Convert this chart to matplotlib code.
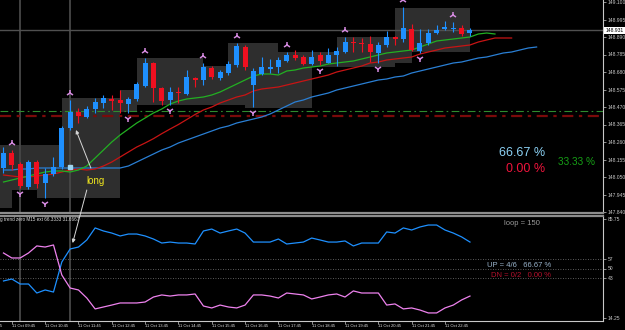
import matplotlib
matplotlib.use('Agg')
import matplotlib.pyplot as plt
from matplotlib import transforms
from matplotlib.patches import Rectangle

plt.rcParams['font.family'] = ['Liberation Sans', 'DejaVu Sans']

# M15 candles, 11 Oct 09:30 .. 23:30
opens = [148.104, 148.194, 148.128, 147.990, 148.140, 148.014, 148.068, 148.110, 148.344, 148.440,
         148.410, 148.458, 148.494, 148.518, 148.512, 148.488, 148.518, 148.596, 148.734, 148.584,
         148.512, 148.560, 148.548, 148.644, 148.632, 148.704, 148.644, 148.674, 148.722, 148.830,
         148.602, 148.668, 148.698, 148.710, 148.746, 148.782, 148.770, 148.728, 148.782, 148.734,
         148.782, 148.800, 148.860, 148.854, 148.848, 148.794, 148.842, 148.890, 148.878, 148.938,
         148.806, 148.854, 148.914, 148.938, 148.938, 148.944, 148.914]
highs = [148.230, 148.212, 148.140, 148.152, 148.152, 148.104, 148.170, 148.356, 148.512, 148.464,
         148.476, 148.524, 148.542, 148.542, 148.572, 148.530, 148.620, 148.764, 148.740, 148.590,
         148.590, 148.590, 148.692, 148.650, 148.734, 148.716, 148.692, 148.746, 148.854, 148.842,
         148.704, 148.770, 148.758, 148.770, 148.800, 148.812, 148.782, 148.812, 148.800, 148.824,
         148.830, 148.890, 148.890, 148.884, 148.896, 148.860, 148.926, 148.896, 149.070, 148.968,
         148.938, 148.938, 148.962, 148.986, 148.980, 148.962, 148.944]
lows = [148.074, 148.092, 147.984, 147.978, 147.984, 147.924, 148.056, 148.098, 148.332, 148.374,
        148.404, 148.434, 148.464, 148.452, 148.434, 148.434, 148.506, 148.590, 148.500, 148.482,
        148.482, 148.494, 148.542, 148.590, 148.602, 148.638, 148.632, 148.662, 148.710, 148.692,
        148.470, 148.662, 148.674, 148.674, 148.740, 148.752, 148.722, 148.722, 148.722, 148.734,
        148.716, 148.794, 148.800, 148.800, 148.740, 148.734, 148.830, 148.842, 148.860, 148.806,
        148.794, 148.842, 148.908, 148.932, 148.920, 148.896, 148.896]
closes = [148.194, 148.122, 147.996, 148.140, 148.008, 148.068, 148.110, 148.344, 148.440, 148.416,
          148.458, 148.500, 148.524, 148.506, 148.494, 148.518, 148.608, 148.734, 148.584, 148.506,
          148.560, 148.554, 148.650, 148.632, 148.710, 148.650, 148.680, 148.728, 148.836, 148.710,
          148.686, 148.710, 148.710, 148.752, 148.782, 148.764, 148.728, 148.770, 148.746, 148.782,
          148.806, 148.860, 148.854, 148.848, 148.800, 148.842, 148.890, 148.878, 148.944, 148.812,
          148.854, 148.914, 148.932, 148.950, 148.944, 148.908, 148.931]

# alligator lines (already shifted forward)
lips = [148.020, 148.032, 148.044, 148.056, 148.068, 148.080, 148.086, 148.086, 148.080, 148.092,
        148.116, 148.164, 148.212, 148.260, 148.302, 148.338, 148.374, 148.404, 148.434, 148.458,
        148.488, 148.506, 148.518, 148.524, 148.530, 148.542, 148.560, 148.584, 148.608, 148.632,
        148.656, 148.668, 148.668, 148.662, 148.686, 148.692, 148.704, 148.710, 148.716, 148.728,
        148.734, 148.740, 148.746, 148.758, 148.770, 148.782, 148.794, 148.800, 148.806, 148.812,
        148.830, 148.848, 148.866, 148.872, 148.878, 148.884, 148.890, 148.908, 148.914, 148.908]
teeth = [148.062, 148.056, 148.050, 148.050, 148.056, 148.062, 148.068, 148.080, 148.092, 148.098,
         148.092, 148.098, 148.116, 148.140, 148.170, 148.200, 148.230, 148.254, 148.280, 148.310,
         148.338, 148.365, 148.395, 148.425, 148.452, 148.470, 148.494, 148.512, 148.530, 148.542,
         148.566, 148.578, 148.584, 148.590, 148.602, 148.614, 148.626, 148.638, 148.650, 148.662,
         148.680, 148.692, 148.704, 148.716, 148.734, 148.740, 148.752, 148.758, 148.764, 148.770,
         148.788, 148.800, 148.812, 148.824, 148.830, 148.836, 148.842, 148.860, 148.872, 148.884,
         148.884, 148.884]
jaw = [148.092, 148.092, 148.098, 148.098, 148.104, 148.104, 148.104, 148.104, 148.104, 148.104,
       148.104, 148.104, 148.104, 148.104, 148.104, 148.116, 148.140, 148.164, 148.188, 148.212,
       148.230, 148.254, 148.272, 148.290, 148.308, 148.326, 148.344, 148.356, 148.374, 148.386,
       148.398, 148.410, 148.428, 148.452, 148.476, 148.500, 148.512, 148.530, 148.542, 148.554,
       148.572, 148.584, 148.596, 148.608, 148.620, 148.632, 148.638, 148.650, 148.656, 148.674,
       148.686, 148.698, 148.710, 148.722, 148.734, 148.740, 148.752, 148.764, 148.770, 148.782,
       148.794, 148.800, 148.812, 148.824, 148.830]

up_fractals = [1, 8, 17, 24, 28, 34, 41, 48, 54]
dn_fractals = [2, 5, 15, 20, 30, 38, 45, 50]

# range boxes: start bar, end bar, top, bottom
box_start = [-1, -1, 4, 7, 14, 16, 24, 27, 29, 33, 37, 40, 47, 49]
box_end = [7, 1, 7, 14, 16, 24, 27, 29, 33, 37, 40, 47, 49, 56]
box_top = [148.242, 147.972, 147.972, 148.524, 148.572, 148.764, 148.716, 148.854, 148.854,
           148.800, 148.800, 148.890, 149.064, 149.064]
box_bottom = [147.972, 147.864, 147.924, 147.924, 148.440, 148.482, 148.482, 148.482, 148.464,
              148.464, 148.710, 148.710, 148.734, 148.800]

green_level = 148.446
red_level = 148.416
entry_bar = 8
entry_price = 148.110
separator_bars = [2, 8]

price_ticks = [149.100, 148.995, 148.890, 148.785, 148.680, 148.575, 148.470,
               148.365, 148.260, 148.155, 148.050, 147.945, 147.840]

# trend zero oscillator
trend_up = [41.0, 42.4, 38.8, 38.8, 32.3, 34.5, 33.0, 54.7, 64.1, 65.5,
            70.6, 79.3, 77.1, 75.6, 73.5, 74.9, 74.9, 73.5, 71.3, 68.4,
            69.1, 68.4, 68.4, 67.7, 77.1, 78.5, 75.6, 77.1, 78.5, 75.6,
            69.1, 69.1, 69.1, 71.3, 67.7, 68.4, 69.1, 72.0, 70.6, 69.1,
            69.1, 69.9, 66.3, 68.4, 68.4, 68.4, 76.4, 75.6, 79.3, 77.8,
            80.0, 81.4, 81.4, 77.8, 75.6, 72.8, 69.1]
trend_dn = [61.2, 57.6, 57.6, 61.2, 66.3, 65.5, 67.0, 45.3, 35.9, 34.5,
            28.7, 20.8, 22.2, 23.6, 25.1, 25.1, 25.1, 25.8, 29.4, 30.9,
            30.1, 30.9, 30.9, 31.6, 22.9, 21.5, 23.6, 22.2, 21.5, 23.6,
            30.9, 30.9, 30.1, 28.7, 32.3, 31.6, 30.9, 28.0, 29.4, 30.9,
            31.6, 29.4, 33.8, 32.3, 32.3, 32.3, 23.6, 24.4, 20.8, 21.5,
            20.0, 17.9, 17.9, 21.5, 23.6, 27.3, 30.1]
ind_levels = [57, 50, 43]
ind_ticks = [85.75, 57, 50, 43, 14.25]
ind_ticklabels = ['85.75', '57', '50', '43', '14.25']

time_bars = [-3, 1, 5, 9, 13, 17, 21, 25, 29, 33, 37, 41, 45, 49, 53]
time_labels = ['11 Oct 08:45', '11 Oct 09:45', '11 Oct 10:45', '11 Oct 11:45', '11 Oct 12:45',
               '11 Oct 13:45', '11 Oct 14:45', '11 Oct 15:45', '11 Oct 16:45', '11 Oct 17:45',
               '11 Oct 18:45', '11 Oct 19:45', '11 Oct 20:45', '11 Oct 21:45', '11 Oct 22:45']

BULL = '#1e90ff'
BEAR = '#f01020'
FRAME = '#c8c8c8'
SEP = '#8c8c8c'

fig = plt.figure(figsize=(6.25, 3.3), dpi=100, facecolor='black')
ax = fig.add_axes([0, 1 - 213 / 330, 603 / 625, 213 / 330], facecolor='black')
ax2 = fig.add_axes([0, 1 - 321 / 330, 603 / 625, 105 / 330], facecolor='black')

xlim = (-0.42, 71.97)

# ---- main panel ----
for s, e, t, b in zip(box_start, box_end, box_top, box_bottom):
    ax.add_patch(Rectangle((s, b), e - s, t - b, facecolor='#2e2e2e', edgecolor='none', zorder=0))

for bx in separator_bars:
    ax.axvline(bx, color='#474747', lw=1.3, zorder=1)
    ax2.axvline(bx, color='#474747', lw=1.3, zorder=1)

ax.axhline(closes[-1], color='#505050', lw=1.0, zorder=1)
ax.axhline(green_level, color='#2e8b2e', lw=0.8, ls=(0, (7, 3, 1.5, 3)), zorder=1)
ax.axhline(red_level, color='#7a0a0a', lw=1.6, ls=(0, (5, 2.5, 1.5, 2.5)), zorder=1)

ax.plot(range(len(jaw)), jaw, color='#2a7fd4', lw=0.9, zorder=2)
ax.plot(range(len(teeth)), teeth, color='#c81414', lw=0.9, zorder=2)
ax.plot(range(len(lips)), lips, color='#22b022', lw=0.9, zorder=2)

for i, (o, h, l, c) in enumerate(zip(opens, highs, lows, closes)):
    col = BULL if c >= o else BEAR
    ax.vlines(i, l, h, color=col, lw=0.8, zorder=3)
    ax.bar(i, max(abs(c - o), 0.003), bottom=min(o, c), width=0.6, color=col,
           edgecolor='none', zorder=3)

ax.plot(up_fractals, [highs[b] + 0.04 for b in up_fractals], ls='none', marker='2',
        color='#d58ae0', ms=5, mew=1.1, zorder=4)
ax.plot(dn_fractals, [lows[b] - 0.035 for b in dn_fractals], ls='none', marker='1',
        color='#d58ae0', ms=5, mew=1.1, zorder=4)
ax.plot(entry_bar, entry_price, ls='none', marker='s', color='#9fd4ee', ms=3.5, zorder=4)

ax.annotate('long', xy=(entry_bar + 0.7, lows[entry_bar]), xytext=(11.1, 148.026),
            color='#f0e61e', fontsize=7, ha='center', va='center', zorder=6,
            arrowprops=dict(arrowstyle='-|>', color='#d8d8d8', lw=0.7,
                            mutation_scale=5, shrinkA=4, shrinkB=0))

ax.text(0.904, 0.282, '66.67 %', transform=ax.transAxes, color='#8cd2f5',
        fontsize=9, ha='right', va='center')
ax.text(0.904, 0.207, '0.00 %', transform=ax.transAxes, color='#f0143c',
        fontsize=9, ha='right', va='center')
ax.text(0.925, 0.239, '33.33 %', transform=ax.transAxes, color='#16a016',
        fontsize=7.2, ha='left', va='center')

ax.set_xlim(*xlim)
ax.set_ylim(147.834, 149.112)
ax.yaxis.tick_right()
ax.set_yticks(price_ticks)
ax.set_yticklabels([f'{p:.3f}' for p in price_ticks])
ax.tick_params(axis='y', colors=FRAME, labelsize=3.6, length=2, width=0.5, pad=1.5)
ax.set_xticks([])
ax.text(1.004, closes[-1], f'{closes[-1]:.3f}',
        transform=transforms.blended_transform_factory(ax.transAxes, ax.transData),
        fontsize=3.6, color='black', ha='left', va='center', clip_on=False,
        bbox=dict(boxstyle='square,pad=0.2', fc='white', ec='none'))
for side in ['left', 'top']:
    ax.spines[side].set_visible(False)
ax.spines['right'].set_color(FRAME)
ax.spines['right'].set_linewidth(0.8)
ax.spines['bottom'].set_color(SEP)
ax.spines['bottom'].set_linewidth(1.6)

# ---- indicator panel ----
for lvl in ind_levels:
    ax2.axhline(lvl, color='#7a7a7a', lw=0.6, ls=(0, (1, 2)), zorder=1)
ax2.plot(range(len(trend_up)), trend_up, color='#1e90ff', lw=0.9, zorder=2)
ax2.plot(range(len(trend_dn)), trend_dn, color='#ee82ee', lw=0.9, zorder=2)

ax2.annotate('', xy=(8.3, 68.4), xytext=(10.0, 147.972), textcoords=ax.transData,
             annotation_clip=False,
             arrowprops=dict(arrowstyle='-|>', color='#d8d8d8', lw=0.7,
                             mutation_scale=5, shrinkA=0, shrinkB=0))

ax2.text(0.0, 0.971, 'g trend zero M15 ext 66.3333 31.6667', transform=ax2.transAxes,
         color='#e0e0e0', fontsize=3.3, ha='left', va='center')
ax2.text(0.866, 0.924, 'loop = 150', transform=ax2.transAxes, color='#9a9a9a',
         fontsize=5.5, ha='center', va='center')
ax2.text(0.914, 0.533, 'UP = 4/6   66.67 %', transform=ax2.transAxes, color='#9ab4cc',
         fontsize=5.5, ha='right', va='center')
ax2.text(0.914, 0.429, 'DN = 0/2   0.00 %', transform=ax2.transAxes, color='#b4102c',
         fontsize=5.5, ha='right', va='center')

ax2.set_xlim(*xlim)
ax2.set_ylim(12.08, 87.92)
ax2.yaxis.tick_right()
ax2.set_yticks(ind_ticks)
ax2.set_yticklabels(ind_ticklabels)
ax2.tick_params(axis='y', colors=FRAME, labelsize=3.6, length=2, width=0.5, pad=1.5)
ax2.set_xticks([b for b in time_bars if b > xlim[0]])
ax2.tick_params(axis='x', colors=FRAME, length=2, width=0.5, labelbottom=False)
tlabel = transforms.blended_transform_factory(ax2.transData, ax2.transAxes)
for b, lab in zip(time_bars, time_labels):
    ax2.text(b, -0.045, lab, transform=tlabel, color='#e0e0e0', fontsize=3.0,
             ha='left', va='center', clip_on=False)
ax2.spines['left'].set_visible(False)
ax2.spines['top'].set_color(SEP)
ax2.spines['top'].set_linewidth(1.6)
ax2.spines['right'].set_color(FRAME)
ax2.spines['right'].set_linewidth(0.8)
ax2.spines['bottom'].set_color(FRAME)
ax2.spines['bottom'].set_linewidth(0.8)

fig.savefig('out.png', dpi=100, facecolor='black')
